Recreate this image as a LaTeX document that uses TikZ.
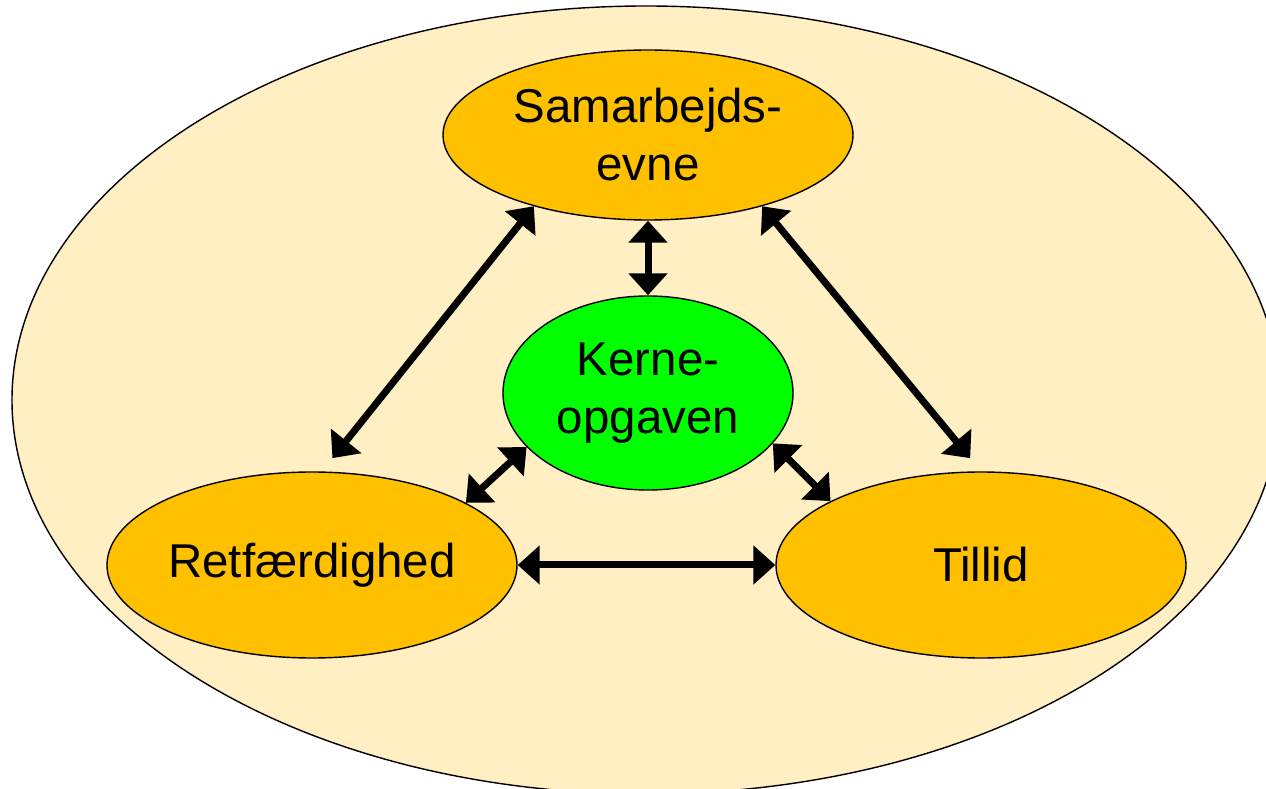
\documentclass[tikz,border=0pt]{standalone}
\usepackage{fontspec}
\setmainfont{Liberation Sans}
\usetikzlibrary{shapes.geometric, arrows.meta}
\definecolor{bgyellow}{RGB}{255, 239, 194}
\definecolor{kernorange}{RGB}{255, 192, 0}
\definecolor{kerngreen}{RGB}{0, 255, 0}

\begin{document}
\begin{tikzpicture}[
  oval/.style={ellipse, draw=black, line width=0.8pt, inner sep=0pt, align=center,
    font=\fontsize{27}{33}\selectfont},
  link/.style={line width=0.14cm,
    {Triangle[length=0.44cm,width=0.76cm]}-{Triangle[length=0.44cm,width=0.76cm]}}
]
\useasboundingbox (0,0) rectangle (25.32,15.76);
\begin{scope}
  \clip (0,0) rectangle (25.32,15.76);
  \fill[white] (0,0) rectangle (25.32,15.76);
  \filldraw[fill=bgyellow, draw=black, line width=0.8pt] (12.92,7.76) ellipse [x radius=12.68cm, y radius=7.88cm];
\end{scope}

\node[oval, fill=kernorange, minimum width=8.2cm, minimum height=3.4cm] (sam) at (12.96, 13.06) {Samarbejds-\\evne};
\node[oval, fill=kerngreen, minimum width=5.8cm, minimum height=3.88cm] (ker) at (12.96, 7.9) {Kerne-\\opgaven};
\node[oval, fill=kernorange, minimum width=8.2cm, minimum height=3.72cm] (ret) at (6.24, 4.46) {Retfærdighed};
\node[oval, fill=kernorange, minimum width=8.2cm, minimum height=3.72cm] (til) at (19.62, 4.46) {Tillid};

\draw[link] (sam.south) -- (ker.north);
\draw[link, shorten >=0.34cm] (sam.212) -- (ret.84);
\draw[link, shorten >=0.34cm] (sam.328) -- (til.90);
\draw[link] (ret.22) -- (ker.204);
\draw[link] (ker.338) -- (til.157);
\draw[link] (ret.east) -- (til.west);
\end{tikzpicture}
\end{document}
